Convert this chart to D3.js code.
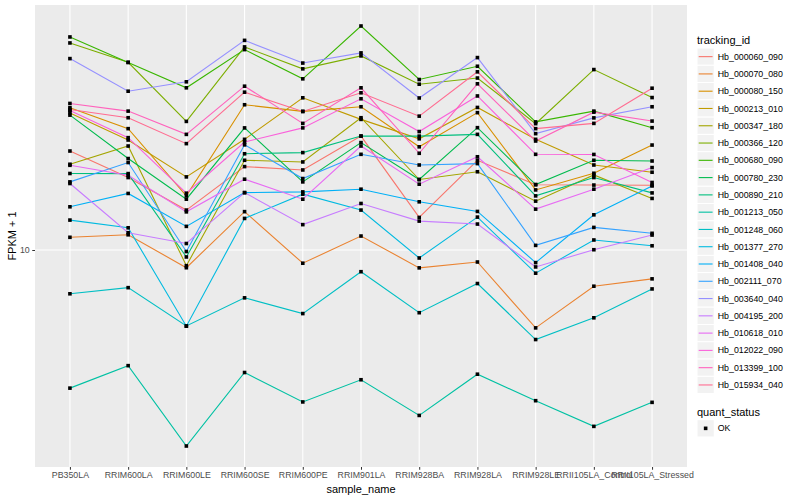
<!DOCTYPE html>
<html>
<head>
<meta charset="utf-8">
<script src="https://cdn.jsdelivr.net/npm/d3@7"></script>
<style>
  body { margin: 0; background: #fff; }
  text { font-family: "Liberation Sans", Arial, sans-serif; }
</style>
</head>
<body>
<script>
// samples on the x axis
const samples = ['PB350LA', 'RRIM600LA', 'RRIM600LE', 'RRIM600SE', 'RRIM600PE', 'RRIM901LA',
  'RRIM928BA', 'RRIM928LA', 'RRIM928LE', 'RRII105LA_Control', 'RRII105LA_Stressed'];

// FPKM + 1 per gene, one value per sample
const hb_000060_090 = [20.43, 16.87, 13.34, 18.26, 17.82, 22.76, 12.65, 19.11, 16.02, 15.98, 15.95];
const hb_000070_080 = [10.96, 11.16, 8.80, 13.19, 9.09, 11.06, 8.79, 9.17, 5.70, 7.70, 8.12];
const hb_000080_150 = [27.92, 24.01, 14.78, 28.53, 27.19, 28.12, 21.06, 26.95, 15.43, 17.40, 21.33];
const hb_000213_010 = [26.90, 22.12, 16.95, 22.23, 30.00, 25.67, 22.31, 27.98, 22.23, 18.47, 17.53];
const hb_000347_180 = [18.57, 21.18, 8.93, 19.11, 18.88, 25.98, 16.63, 17.59, 14.23, 17.19, 14.51];
const hb_000366_120 = [44.57, 38.77, 25.30, 43.31, 36.97, 40.59, 33.09, 34.60, 24.89, 36.78, 30.05];
const hb_000680_090 = [46.54, 38.70, 32.24, 42.48, 34.40, 50.37, 34.23, 37.67, 25.21, 27.25, 24.18];
const hb_000780_230 = [26.47, 19.35, 14.43, 24.14, 16.35, 21.71, 16.63, 24.18, 16.04, 19.11, 19.01];
const hb_000890_210 = [17.37, 17.36, 9.51, 20.03, 20.20, 22.76, 22.75, 23.04, 14.78, 16.87, 15.10];
const hb_001213_050 = [3.69, 4.34, 2.43, 4.13, 3.34, 3.92, 3.03, 4.08, 3.37, 2.80, 3.33];
const hb_001248_060 = [7.29, 7.62, 5.78, 7.08, 6.32, 8.55, 6.36, 7.85, 5.24, 6.13, 7.55];
const hb_001377_270 = [12.41, 11.74, 5.77, 12.56, 14.96, 13.34, 9.44, 12.68, 8.46, 10.75, 10.31];
const hb_001408_040 = [13.66, 15.04, 11.86, 15.13, 15.21, 15.51, 14.16, 13.21, 9.13, 12.89, 15.88];
const hb_002111_070 = [16.35, 18.80, 9.89, 21.36, 16.75, 19.95, 18.47, 18.66, 10.34, 11.77, 11.28];
const hb_003640_040 = [39.81, 31.46, 33.67, 45.41, 38.55, 41.48, 29.96, 40.10, 23.16, 25.95, 28.12];
const hb_004195_200 = [16.16, 11.33, 10.48, 15.13, 12.01, 13.99, 12.32, 12.06, 8.85, 10.02, 11.14];
const hb_010618_010 = [18.43, 17.15, 13.17, 16.67, 14.43, 21.18, 16.08, 19.60, 13.43, 15.51, 18.13];
const hb_012022_090 = [27.38, 22.50, 15.07, 21.80, 24.14, 29.79, 23.51, 30.40, 19.95, 19.93, 16.28];
const hb_013399_100 = [28.80, 27.25, 23.04, 32.62, 24.94, 32.24, 20.10, 33.19, 21.96, 27.05, 25.36];
const hb_015934_040 = [27.58, 25.98, 21.55, 31.24, 27.19, 31.10, 26.28, 36.18, 24.01, 24.94, 32.15];

const trackingIds = ['Hb_000060_090', 'Hb_000070_080', 'Hb_000080_150', 'Hb_000213_010', 'Hb_000347_180',
  'Hb_000366_120', 'Hb_000680_090', 'Hb_000780_230', 'Hb_000890_210', 'Hb_001213_050', 'Hb_001248_060',
  'Hb_001377_270', 'Hb_001408_040', 'Hb_002111_070', 'Hb_003640_040', 'Hb_004195_200', 'Hb_010618_010',
  'Hb_012022_090', 'Hb_013399_100', 'Hb_015934_040'];
const seriesValues = [hb_000060_090, hb_000070_080, hb_000080_150, hb_000213_010, hb_000347_180,
  hb_000366_120, hb_000680_090, hb_000780_230, hb_000890_210, hb_001213_050, hb_001248_060,
  hb_001377_270, hb_001408_040, hb_002111_070, hb_003640_040, hb_004195_200, hb_010618_010,
  hb_012022_090, hb_013399_100, hb_015934_040];
const quantStatus = ['OK'];

// ggplot hue palette for 20 levels
const palette = ['#F8766D', '#EA8331', '#D89000', '#C09B00', '#A3A500', '#7CAE00', '#39B600', '#00BB4E',
  '#00BF7D', '#00C1A3', '#00BFC4', '#00BAE0', '#00B0F6', '#35A2FF', '#9590FF', '#C77CFF', '#E76BF3',
  '#FA62DB', '#FF62BC', '#FF6C91'];

const series = trackingIds.map((id, i) => ({
  id, color: palette[i],
  points: samples.map((s, j) => ({ sample: s, value: seriesValues[i][j] }))
}));

const width = 800, height = 500;
const panel = { left: 35, right: 687, top: 5, bottom: 467 };

const svg = d3.select('body').append('svg')
  .attr('width', width)
  .attr('height', height);

// scales
const x = d3.scalePoint()
  .domain(samples)
  .range([panel.left, panel.right])
  .padding(0.6);

const allVals = seriesValues.flat();
const lo = Math.log10(d3.min(allVals)), hi = Math.log10(d3.max(allVals));
const pad = (hi - lo) * 0.05;
const y = d3.scaleLog()
  .domain([Math.pow(10, lo - pad), Math.pow(10, hi + pad)])
  .range([panel.bottom, panel.top]);

// panel background + grid
svg.append('rect')
  .attr('x', panel.left).attr('y', panel.top)
  .attr('width', panel.right - panel.left)
  .attr('height', panel.bottom - panel.top)
  .attr('fill', '#EBEBEB');

const yTicks = [10];

svg.append('g').selectAll('line')
  .data(yTicks)
  .enter().append('line')
  .attr('x1', panel.left).attr('x2', panel.right)
  .attr('y1', d => y(d)).attr('y2', d => y(d))
  .attr('stroke', '#fff').attr('stroke-width', 1.1);

svg.append('g').selectAll('line')
  .data(samples)
  .enter().append('line')
  .attr('x1', d => x(d)).attr('x2', d => x(d))
  .attr('y1', panel.top).attr('y2', panel.bottom)
  .attr('stroke', '#fff').attr('stroke-width', 1.1);

// lines
const line = d3.line()
  .x(d => x(d.sample))
  .y(d => y(d.value));

svg.append('g').selectAll('path')
  .data(series)
  .enter().append('path')
  .attr('d', d => line(d.points))
  .attr('fill', 'none')
  .attr('stroke', d => d.color)
  .attr('stroke-width', 1.1);

// points (quant_status = OK, black)
svg.append('g').selectAll('rect')
  .data(series.flatMap(s => s.points))
  .enter().append('rect')
  .attr('x', d => x(d.sample) - 1.8)
  .attr('y', d => y(d.value) - 1.8)
  .attr('width', 3.6).attr('height', 3.6)
  .attr('fill', '#000');

// axes
const xAxis = svg.append('g')
  .attr('transform', `translate(0,${panel.bottom})`)
  .call(d3.axisBottom(x).tickSize(2.75).tickPadding(2.5));
const yAxis = svg.append('g')
  .attr('transform', `translate(${panel.left},0)`)
  .call(d3.axisLeft(y).tickValues(yTicks).tickFormat(d3.format('d')).tickSize(2.75).tickPadding(2.5));

[xAxis, yAxis].forEach(a => {
  a.select('.domain').remove();
  a.selectAll('.tick line').attr('stroke', '#333').attr('stroke-width', 1);
  a.selectAll('.tick text').attr('fill', '#4D4D4D').style('font-size', '8.8px');
});

svg.append('text')
  .attr('x', (panel.left + panel.right) / 2).attr('y', 493)
  .attr('text-anchor', 'middle')
  .style('font-size', '11px')
  .text('sample_name');

svg.append('text')
  .attr('transform', `translate(16,${(panel.top + panel.bottom) / 2}) rotate(-90)`)
  .attr('text-anchor', 'middle')
  .style('font-size', '11px')
  .text('FPKM + 1');

// legend: tracking_id
const key = 17.28;
const lg = svg.append('g').attr('transform', 'translate(697,0)');
lg.append('text').attr('x', 0).attr('y', 44).style('font-size', '11px').text('tracking_id');

const items = lg.selectAll('g.item')
  .data(series)
  .enter().append('g')
  .attr('class', 'item')
  .attr('transform', (d, i) => `translate(0,${48 + i * key})`);
items.append('rect')
  .attr('width', key).attr('height', key)
  .attr('fill', '#F2F2F2').attr('stroke', '#fff').attr('stroke-width', 1);
items.append('line')
  .attr('x1', 1.7).attr('x2', key - 1.7)
  .attr('y1', key / 2).attr('y2', key / 2)
  .attr('stroke', d => d.color).attr('stroke-width', 1.1);
items.append('text')
  .attr('x', key + 3.5).attr('y', key / 2 + 3.1)
  .style('font-size', '8.8px')
  .text(d => d.id);

// legend: quant_status
lg.append('text').attr('x', 0).attr('y', 415.5).style('font-size', '11px').text('quant_status');
const qs = lg.selectAll('g.qs')
  .data(quantStatus)
  .enter().append('g')
  .attr('class', 'qs')
  .attr('transform', (d, i) => `translate(0,${419.7 + i * key})`);
qs.append('rect')
  .attr('width', key).attr('height', key)
  .attr('fill', '#F2F2F2').attr('stroke', '#fff').attr('stroke-width', 1);
qs.append('rect')
  .attr('x', key / 2 - 1.8).attr('y', key / 2 - 1.8)
  .attr('width', 3.6).attr('height', 3.6)
  .attr('fill', '#000');
qs.append('text')
  .attr('x', key + 3.5).attr('y', key / 2 + 3.1)
  .style('font-size', '8.8px')
  .text(d => d);
</script>
</body>
</html>
